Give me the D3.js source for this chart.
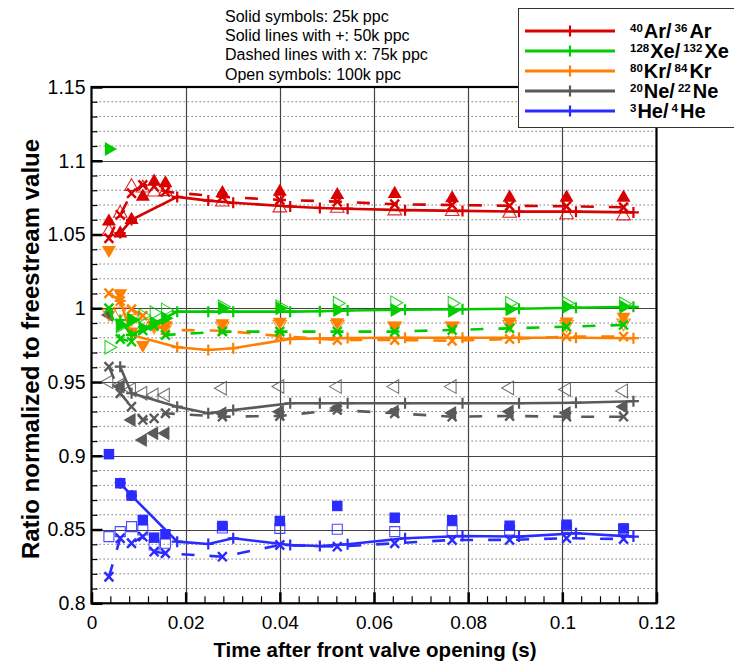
<!DOCTYPE html>
<html><head><meta charset="utf-8">
<script src="https://cdn.jsdelivr.net/npm/d3@7"></script>
<style>
body{margin:0;background:#fff}
svg{display:block}
text{font-family:"Liberation Sans",Arial,Helvetica,sans-serif;fill:#000}
</style>
</head><body>
<svg id="c" width="734" height="664"></svg>
<script>
// ---------------- data ----------------
const times   = [0.0037, 0.0061, 0.0085, 0.0109, 0.0133, 0.0157, 0.0278, 0.0400, 0.0522, 0.0644, 0.0766, 0.0888, 0.1009, 0.1130];
const times50 = [0.0061, 0.0085, 0.0182, 0.0248, 0.0301, 0.0422, 0.0485, 0.0544, 0.0666, 0.0788, 0.0908, 0.1029, 0.1151];

// 40Ar/36Ar
const ar25  = [1.0588, 1.0508, 1.0599, 1.0757, 1.0858, 1.0847, 1.0780, 1.0790, 1.0768, 1.0775, 1.0746, 1.0750, 1.0750, 1.0750];
const ar50  = [1.0510, 1.0599, 1.0755, 1.0730, 1.0715, 1.0690, 1.0680, 1.0675, 1.0665, 1.0660, 1.0655, 1.0655, 1.0650];
const ar75  = [1.0475, 1.0633, 1.0780, 1.0836, 1.0825, 1.0790, 1.0755, 1.0735, 1.0723, 1.0705, 1.0700, 1.0695, 1.0692, 1.0685];
const ar100 = [1.0520, 1.0644, 1.0825, 1.0815, 1.0788, 1.0790, 1.0720, 1.0680, 1.0678, 1.0660, 1.0655, 1.0644, 1.0633, 1.0626];
// 128Xe/132Xe
const xe25  = [1.1080, 0.9887, 0.9920, 0.9864, 0.9900, 0.9932, 1.0000, 1.0000, 0.9988, 0.9988, 0.9984, 0.9993, 1.0011, 1.0011];
const xe50  = [0.9920, 0.9819, 0.9977, 0.9977, 0.9977, 0.9977, 0.9980, 0.9985, 0.9990, 0.9993, 0.9997, 1.0004, 1.0010];
const xe75  = [1.0000, 0.9792, 0.9774, 0.9850, 0.9880, 0.9819, 0.9842, 0.9842, 0.9842, 0.9842, 0.9853, 0.9864, 0.9875, 0.9887];
const xe100 = [0.9736, 0.9880, 0.9920, 0.9950, 0.9970, 0.9989, 1.0010, 1.0010, 1.0034, 1.0038, 1.0034, 1.0034, 1.0034, 1.0030];
// 80Kr/84Kr
const kr25  = [1.0395, 1.0102, 0.9842, 0.9751, 0.9887, 0.9887, 0.9898, 0.9909, 0.9905, 0.9882, 0.9882, 0.9910, 0.9910, 0.9943];
const kr50  = [1.0050, 0.9819, 0.9736, 0.9717, 0.9729, 0.9792, 0.9795, 0.9798, 0.9800, 0.9800, 0.9800, 0.9800, 0.9797];
const kr75  = [1.0102, 1.0050, 0.9993, 0.9950, 0.9887, 0.9853, 0.9848, 0.9812, 0.9785, 0.9785, 0.9780, 0.9792, 0.9808, 0.9808];
const kr100 = [0.9966, 0.9980, 0.9930, 0.9900, 0.9880, 0.9870, 0.9880, 0.9890, 0.9890, 0.9880, 0.9880, 0.9890, 0.9890, 0.9900];
// 20Ne/22Ne
const ne25  = [0.9955, 0.9470, 0.9243, 0.9107, 0.9153, 0.9153, 0.9288, 0.9299, 0.9324, 0.9300, 0.9290, 0.9300, 0.9290, 0.9333];
const ne50  = [0.9604, 0.9424, 0.9333, 0.9288, 0.9310, 0.9356, 0.9356, 0.9356, 0.9356, 0.9356, 0.9356, 0.9360, 0.9370];
const ne75  = [0.9604, 0.9424, 0.9333, 0.9243, 0.9254, 0.9288, 0.9265, 0.9270, 0.9311, 0.9288, 0.9265, 0.9270, 0.9265, 0.9265];
const ne100 = [0.9502, 0.9480, 0.9450, 0.9424, 0.9412, 0.9412, 0.9458, 0.9470, 0.9469, 0.9469, 0.9469, 0.9460, 0.9450, 0.9440];
// 3He/4He
const he25  = [0.9011, 0.8814, 0.8730, 0.8565, 0.8445, 0.8468, 0.8524, 0.8558, 0.8660, 0.8580, 0.8563, 0.8526, 0.8533, 0.8508];
const he50  = [0.8814, 0.8730, 0.8418, 0.8402, 0.8441, 0.8395, 0.8388, 0.8400, 0.8441, 0.8456, 0.8452, 0.8475, 0.8452];
const he75  = [0.8180, 0.8441, 0.8407, 0.8452, 0.8350, 0.8339, 0.8316, 0.8395, 0.8384, 0.8407, 0.8429, 0.8430, 0.8441, 0.8436];
const he100 = [0.8452, 0.8486, 0.8520, 0.8497, 0.8395, 0.8407, 0.8510, 0.8508, 0.8502, 0.8486, 0.8493, 0.8497, 0.8515, 0.8502];

const xTicks = [0, 0.02, 0.04, 0.06, 0.08, 0.1, 0.12];
const xTickLabels = ["0", "0.02", "0.04", "0.06", "0.08", "0.1", "0.12"];
const yTicks = [0.8, 0.85, 0.9, 0.95, 1, 1.05, 1.1, 1.15];
const yTickLabels = ["0.8", "0.85", "0.9", "0.95", "1", "1.05", "1.1", "1.15"];
const notes = ["Solid symbols: 25k ppc", "Solid lines with +: 50k ppc", "Dashed lines with x: 75k ppc", "Open symbols: 100k ppc"];
const xTitle = "Time after front valve opening (s)";
const yTitle = "Ratio normalized to freestream value";

const species = [
  {name: ["40", "Ar", "36", "Ar"],   color: "#d80000", shape: "up",    s25: ar25, s50: ar50, s75: ar75, s100: ar100},
  {name: ["128", "Xe", "132", "Xe"], color: "#00cc00", shape: "right", s25: xe25, s50: xe50, s75: xe75, s100: xe100},
  {name: ["80", "Kr", "84", "Kr"],   color: "#ff8000", shape: "down",  s25: kr25, s50: kr50, s75: kr75, s100: kr100},
  {name: ["20", "Ne", "22", "Ne"],   color: "#5a5a5a", shape: "left",  s25: ne25, s50: ne50, s75: ne75, s100: ne100},
  {name: ["3", "He", "4", "He"],     color: "#2b2bff", shape: "square",s25: he25, s50: he50, s75: he75, s100: he100}
];

// ---------------- chart ----------------
const svg = d3.select("#c");
const X0 = 91.5, X1 = 656.5, Y0 = 603.3, Y1 = 87;
const x = d3.scaleLinear().domain([0, 0.12]).range([X0, X1]);
const y = d3.scaleLinear().domain([0.8, 1.15]).range([Y0, Y1]);

// grid
const g = svg.append("g");
const minorY = d3.range(81, 115).map(v => v / 100).filter(v => Math.round(v * 100) % 5 !== 0);
g.selectAll(".dy").data(minorY).join("line")
  .attr("x1", X0).attr("x2", X1).attr("y1", d => y(d)).attr("y2", d => y(d))
  .attr("stroke", "#666").attr("stroke-width", 1).attr("stroke-dasharray", "1.3,2.7");
g.selectAll(".sy").data(yTicks.slice(1, -1)).join("line")
  .attr("x1", X0).attr("x2", X1).attr("y1", d => Math.round(y(d)) + 0.5).attr("y2", d => Math.round(y(d)) + 0.5)
  .attr("stroke", "#444").attr("stroke-width", 1.2);
g.selectAll(".sx").data(xTicks.slice(1, -1)).join("line")
  .attr("y1", Y0).attr("y2", Y1).attr("x1", d => Math.round(x(d)) + 0.5).attr("x2", d => Math.round(x(d)) + 0.5)
  .attr("stroke", "#444").attr("stroke-width", 1.2);

// axes
const minorX = d3.range(0, 31).map(v => v * 0.004).filter((v, i) => i % 5 !== 0);
const ax = svg.append("g").attr("transform", `translate(0,${Y0})`);
ax.call(d3.axisBottom(x).tickValues(minorX).tickSize(-7).tickFormat(""))
  .call(a => a.selectAll("line").attr("stroke-width", 1.2))
  .call(a => a.select(".domain").remove());
const axM = svg.append("g").attr("transform", `translate(0,${Y0})`);
axM.call(d3.axisBottom(x).tickValues(xTicks).tickSize(-11).tickPadding(8).tickFormat((d, i) => xTickLabels[i]))
  .call(a => a.selectAll("line").attr("stroke-width", 2.5))
  .call(a => a.select(".domain").remove())
  .call(a => a.selectAll("text").attr("font-size", 19).attr("font-family", '"Liberation Sans",Arial,sans-serif').attr("dy", "0.95em"));

const ayMin = svg.append("g").attr("transform", `translate(${X0},0)`);
ayMin.call(d3.axisLeft(y).tickValues(minorY).tickSize(-6).tickFormat(""))
  .call(a => a.selectAll("line").attr("stroke-width", 1.2))
  .call(a => a.select(".domain").remove());
const ay = svg.append("g").attr("transform", `translate(${X0},0)`);
ay.call(d3.axisLeft(y).tickValues(yTicks).tickSize(-11).tickPadding(7).tickFormat((d, i) => yTickLabels[i]))
  .call(a => a.selectAll("line").attr("stroke-width", 2.5))
  .call(a => a.select(".domain").remove())
  .call(a => a.selectAll("text").attr("font-size", 19.5).attr("font-family", '"Liberation Sans",Arial,sans-serif').attr("x", -6));

// frame
svg.append("rect").attr("x", X0).attr("y", Y1).attr("width", X1 - X0).attr("height", Y0 - Y1)
  .attr("fill", "none").attr("stroke", "#000").attr("stroke-width", 2.2);

// symbols
const rot = {up: 0, right: 90, down: 180, left: 270};
function symPath(shape, filled) {
  if (shape === "square") return d3.symbol(d3.symbolSquare, filled ? 110 : 100)();
  return d3.symbol(d3.symbolTriangle, filled ? 85 : 80)();
}
const plusPath = "M-5.5,0H5.5M0,-5.5V5.5";
const xPath = "M-4.4,-4.6L4.4,4.6M-4.4,4.6L4.4,-4.6";

const lineGen = (t) => d3.line().x((d, i) => x(t[i])).y(d => y(d));

const layer = svg.append("g");
species.slice().reverse().forEach(sp => {
  const gg = layer.append("g");
  gg.append("path").datum(sp.s75).attr("d", lineGen(times))
    .attr("fill", "none").attr("stroke", sp.color).attr("stroke-width", 2.6).attr("stroke-dasharray", "13,15");
  gg.append("path").datum(sp.s50).attr("d", lineGen(times50))
    .attr("fill", "none").attr("stroke", sp.color).attr("stroke-width", 2.6);
  gg.selectAll(".p").data(sp.s50).join("path")
    .attr("transform", (d, i) => `translate(${x(times50[i])},${y(d)})`)
    .attr("d", plusPath).attr("stroke", sp.color).attr("stroke-width", 2.2).attr("fill", "none");
  gg.selectAll(".x").data(sp.s75).join("path")
    .attr("transform", (d, i) => `translate(${x(times[i])},${y(d)})`)
    .attr("d", xPath).attr("stroke", sp.color).attr("stroke-width", 2.4).attr("fill", "none");
  gg.selectAll(".o").data(sp.s100).join("path")
    .attr("transform", (d, i) => `translate(${x(times[i])},${y(d)}) rotate(${rot[sp.shape] || 0})`)
    .attr("d", symPath(sp.shape, false)).attr("fill", "none").attr("stroke", sp.color).attr("stroke-width", 1.1).attr("stroke-opacity", 0.85);
  gg.selectAll(".f").data(sp.s25).join("path")
    .attr("transform", (d, i) => `translate(${x(times[i])},${y(d)}) rotate(${rot[sp.shape] || 0})`)
    .attr("d", symPath(sp.shape, true)).attr("fill", sp.color).attr("stroke", "none");
});

// notes
svg.append("g").selectAll("text").data(notes).join("text")
  .attr("x", 225).attr("y", (d, i) => 21.5 + i * 19.4).attr("font-size", 16).text(d => d);

// legend
const lg = svg.append("g");
lg.append("rect").attr("x", 518.5).attr("y", 8.5).attr("width", 216).attr("height", 119)
  .attr("fill", "#fff").attr("stroke", "#333").attr("stroke-width", 1);
species.forEach((sp, i) => {
  const cy = 31 + i * 20;
  lg.append("line").attr("x1", 525).attr("x2", 615).attr("y1", cy).attr("y2", cy)
    .attr("stroke", sp.color).attr("stroke-width", 3);
  lg.append("path").attr("transform", `translate(570,${cy})`).attr("d", plusPath)
    .attr("stroke", sp.color).attr("stroke-width", 2.2);
  const t = lg.append("text").attr("x", 630).attr("y", cy + 6.5).attr("font-size", 20).attr("font-weight", "bold");
  t.append("tspan").attr("font-size", 11.5).attr("dy", -6).text(sp.name[0]);
  t.append("tspan").attr("dy", 6).attr("dx", 1).text(sp.name[1] + "/");
  t.append("tspan").attr("font-size", 11.5).attr("dy", -6).attr("dx", 3).text(sp.name[2]);
  t.append("tspan").attr("dy", 6).attr("dx", 2).text(sp.name[3]);
});

// axis titles
svg.append("text").attr("x", 375).attr("y", 657).attr("text-anchor", "middle")
  .attr("font-size", 20.5).attr("font-weight", "bold").text(xTitle);
svg.append("text").attr("transform", `translate(39,349) rotate(-90)`).attr("text-anchor", "middle")
  .attr("font-size", 24).attr("font-weight", "bold").text(yTitle);
</script>
</body></html>
